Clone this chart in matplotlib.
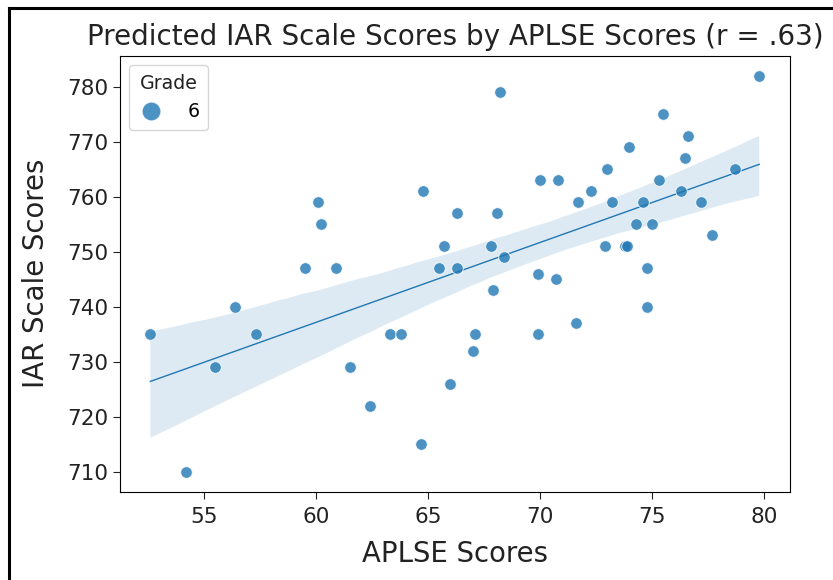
import numpy as np
import pandas as pd
import matplotlib
matplotlib.use("Agg")
import matplotlib.pyplot as plt
import seaborn as sns
from matplotlib.lines import Line2D

# APLSE score (x) and IAR scale score (y)
aplse = [60.1, 60.2, 64.8, 66.3, 65.7, 59.5, 60.9, 65.5, 66.3,
         79.8, 68.2, 75.5, 76.6, 74.0, 76.5, 73.0, 78.7, 70.0, 70.8,
         75.3, 72.3, 76.3, 71.7, 73.2, 74.6, 77.2, 68.1, 74.3, 75.0,
         67.8, 72.9, 73.8, 73.9, 77.7, 68.4, 74.8, 69.9, 70.7, 67.9,
         74.8, 71.6, 67.1, 69.9, 67.0, 66.0,
         56.4, 52.6, 57.3, 63.3, 63.8, 55.5, 61.5, 62.4, 64.7, 54.2]
iar = [759, 755, 761, 757, 751, 747, 747, 747, 747,
       782, 779, 775, 771, 769, 767, 765, 765, 763, 763,
       763, 761, 761, 759, 759, 759, 759, 757, 755, 755,
       751, 751, 751, 751, 753, 749, 747, 746, 745, 743,
       740, 737, 735, 735, 732, 726,
       740, 735, 735, 735, 735, 729, 729, 722, 715, 710]
grade = [6] * len(aplse)

df = pd.DataFrame({"APLSE": aplse, "IAR": iar, "Grade": grade})

blue = "#1f77b4"

fig = plt.figure(figsize=(8.33, 5.8), dpi=100)
ax = fig.add_axes([0.144, 0.152, 0.804, 0.752])

sns.regplot(data=df, x="APLSE", y="IAR", scatter=False, ax=ax,
            color=blue, line_kws={"linewidth": 1}, seed=3)
ax.scatter(df["APLSE"], df["IAR"], s=70, color=blue, alpha=0.8,
           edgecolors="white", linewidths=0.7, zorder=3)

ax.set_xlim(51.24, 81.16)
ax.set_ylim(706.4, 785.6)
ax.set_xticks([55, 60, 65, 70, 75, 80])
ax.set_yticks([710, 720, 730, 740, 750, 760, 770, 780])
ax.tick_params(labelsize=15.5, length=5, colors="#222222")
ax.tick_params(axis="x", pad=6)

ax.set_title("Predicted IAR Scale Scores by APLSE Scores (r = .63)",
             fontsize=20, color="#222222", pad=8)
ax.set_xlabel("APLSE Scores", fontsize=19.8, color="#222222", labelpad=9)
ax.set_ylabel("IAR Scale Scores", fontsize=19.8, color="#222222", labelpad=12)

handle = Line2D([], [], marker="o", linestyle="none", markersize=13.5,
                color=blue, alpha=0.8, markeredgecolor="white",
                markeredgewidth=0.7)
leg = ax.legend([handle], ["6"], title="Grade", loc="upper left",
                fontsize=13.7, title_fontsize=13.7, handlelength=1.4,
                handletextpad=1.2, borderpad=0.45, borderaxespad=0.5)
leg.get_title().set_color("#222222")

# screenshot frame on the left and top
fig.add_artist(Line2D([0.0105, 0.0105], [0, 0.987], color="black",
                      linewidth=2.2, transform=fig.transFigure))
fig.add_artist(Line2D([0.0105, 1], [0.987, 0.987], color="black",
                      linewidth=2.2, transform=fig.transFigure))

fig.savefig("out.png", dpi=100)
